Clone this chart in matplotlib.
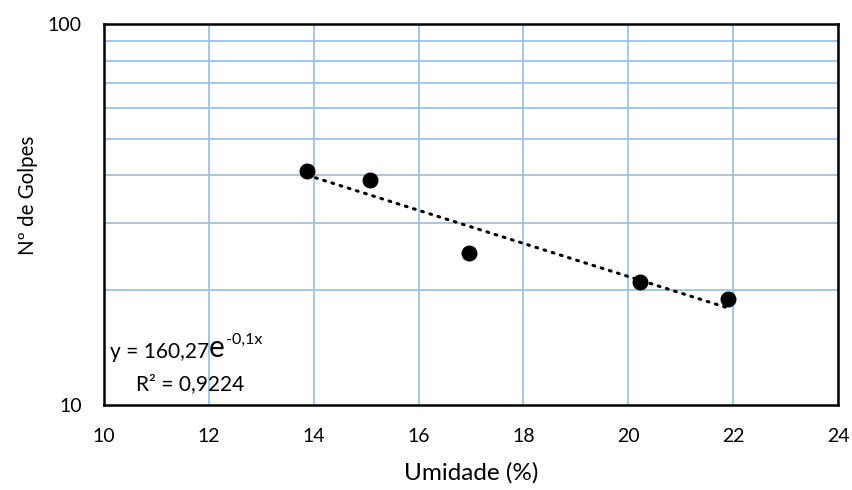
import numpy as np
import matplotlib

matplotlib.use("Agg")
import matplotlib.pyplot as plt
from matplotlib.ticker import FixedLocator, NullFormatter

plt.rcParams["font.family"] = ["Lato", "DejaVu Sans"]

# leituras do ensaio (umidade x golpes)
umidade = [13.88, 15.08, 16.97, 20.22, 21.91]
golpes = [41, 39, 25, 21, 19]
x_ticks = [10, 12, 14, 16, 18, 20, 22, 24]
y_ticks = [10, 100]
y_grid = [20, 30, 40, 50, 60, 70, 80, 90]

GRID = "#9dc3e6"
FS = 14

fig = plt.figure(figsize=(8.53, 4.90), dpi=100)
ax = fig.add_axes([0.1219, 0.1741, 0.8605, 0.7769])
ax.set_yscale("log")
ax.set_xlim(10, 24)
ax.set_ylim(10, 100)

ax.xaxis.set_major_locator(FixedLocator(x_ticks))
ax.yaxis.set_major_locator(FixedLocator(y_ticks))
ax.yaxis.set_minor_locator(FixedLocator(y_grid))
ax.yaxis.set_minor_formatter(NullFormatter())
ax.set_yticklabels([str(t) for t in y_ticks])
ax.tick_params(which="both", length=0, labelsize=FS)
ax.tick_params(axis="y", pad=16)
ax.tick_params(axis="x", pad=17)
ax.grid(True, which="major", axis="x", color=GRID, lw=1.3)
ax.grid(True, which="minor", axis="y", color=GRID, lw=1.3)
ax.set_axisbelow(True)
for s in ax.spines.values():
    s.set_color("black")
    s.set_linewidth(1.8)

# linha de tendência exponencial (ajuste em log)
b, ln_a = np.polyfit(umidade, np.log(golpes), 1)
xs = np.linspace(min(umidade), max(umidade), 50)
ax.plot(xs, np.exp(ln_a) * np.exp(b * xs), color="black", lw=2.2,
        linestyle=(0, (0.6, 2.2)), dash_capstyle="round", zorder=3)

ax.scatter(umidade, golpes, s=110, color="black", zorder=4)

ax.set_xlabel("Umidade (%)", fontsize=17.5)
ax.set_ylabel("Nº de Golpes", fontsize=14.8)
ax.xaxis.set_label_coords(0.5, -0.150)
ax.yaxis.set_label_coords(-0.090, 0.551)

# equação da tendência
t1 = ax.text(0.008, 0.123, "y = 160,27", transform=ax.transAxes, fontsize=15,
             ha="left", va="baseline")
t2 = ax.annotate("e", xy=(1, 0), xycoords=t1, fontsize=21.5,
                 ha="left", va="bottom")
ax.annotate("-0,1x", xy=(1, 0), xycoords=t2, xytext=(1, 11),
            textcoords="offset points", fontsize=11.5, ha="left", va="bottom")
ax.text(0.044, 0.039, "R² = 0,9224", transform=ax.transAxes, fontsize=15,
        ha="left", va="baseline")

fig.savefig("out.png", dpi=100)
